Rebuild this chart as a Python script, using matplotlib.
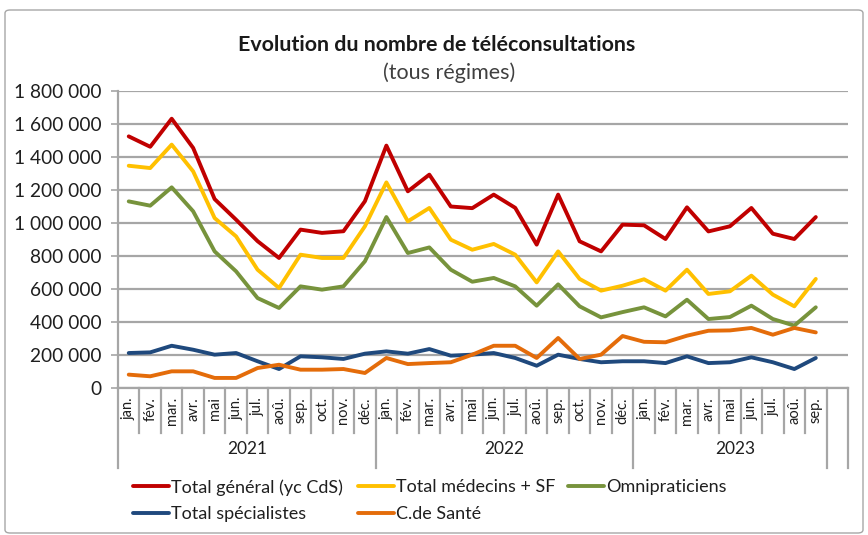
import matplotlib
matplotlib.use("Agg")
import matplotlib.pyplot as plt
import matplotlib.transforms as mtransforms
from matplotlib.patches import FancyBboxPatch
from matplotlib.ticker import FuncFormatter

plt.rcParams['font.family'] = ['Lato', 'DejaVu Sans']

# --- data -------------------------------------------------------------
years = ["2021", "2022", "2023"]
months_per_year = [12, 12, 10]          # last slot of 2023 is left empty
month_labels = ["jan.", "fév.", "mar.", "avr.", "mai", "jun.",
                "jul.", "aoû.", "sep.", "oct.", "nov.", "déc."]
month_labels_2023 = ["jan.", "fév.", "mar.", "avr.", "mai", "jun.",
                     "jul.", "aoû.", "sep.", ""]

total_general = [1525000, 1462000, 1632000, 1455000, 1145000, 1020000,
                 890000, 788000, 960000, 940000, 950000, 1132000,
                 1469000, 1192000, 1293000, 1100000, 1090000, 1172000,
                 1092000, 869000, 1172000, 889000, 828000, 990000,
                 986000, 903000, 1095000, 949000, 980000, 1091000,
                 935000, 903000, 1036000]
total_medecins = [1347000, 1333000, 1475000, 1313000, 1030000, 919000,
                  717000, 606000, 808000, 788000, 788000, 980000,
                  1246000, 1010000, 1091000, 899000, 838000, 873000,
                  808000, 640000, 828000, 661000, 590000, 620000,
                  659000, 590000, 717000, 570000, 586000, 681000,
                  566000, 495000, 661000]
omnipraticiens = [1131000, 1105000, 1216000, 1071000, 828000, 707000,
                  545000, 485000, 616000, 596000, 616000, 768000,
                  1036000, 818000, 852000, 717000, 644000, 667000,
                  616000, 499000, 628000, 495000, 428000, 460000,
                  489000, 434000, 535000, 418000, 430000, 499000,
                  418000, 378000, 489000]
specialistes = [212000, 216000, 256000, 232000, 202000, 212000,
                162000, 115000, 192000, 186000, 176000, 208000,
                222000, 208000, 236000, 196000, 202000, 212000,
                182000, 135000, 202000, 176000, 156000, 162000,
                162000, 151000, 192000, 151000, 156000, 186000,
                156000, 115000, 182000]
centres_sante = [81000, 71000, 101000, 101000, 61000, 61000,
                 121000, 141000, 111000, 111000, 115000, 91000,
                 182000, 145000, 151000, 156000, 202000, 256000,
                 256000, 182000, 303000, 176000, 202000, 315000,
                 280000, 277000, 317000, 347000, 349000, 364000,
                 323000, 364000, 337000]

series_names = ["Total général (yc CdS)", "Total médecins + SF", "Omnipraticiens",
                "Total spécialistes", "C.de Santé"]
series_values = [total_general, total_medecins, omnipraticiens,
                 specialistes, centres_sante]
series_colors = ["#C00000", "#FFC000", "#77933C", "#1F497D", "#E46C0A"]

y_ticks = list(range(0, 1800001, 200000))

# --- figure -------------------------------------------------------------
W, H = 868, 535
fig = plt.figure(figsize=(W / 100, H / 100), dpi=100)

# chart-area frame
frame = FancyBboxPatch((5 / W, 2 / H), 858 / W, 523 / H,
                       boxstyle="round,pad=0,rounding_size=0.006",
                       transform=fig.transFigure, fill=False,
                       edgecolor="#A6A6A6", linewidth=1.0)
fig.patches.append(frame)

ax = fig.add_axes([118 / W, 1 - 388 / H, 730 / W, 297 / H])

n_slots = sum(months_per_year)
x = [i + 0.5 for i in range(len(total_general))]

handles = []
for name, vals, col in zip(series_names, series_values, series_colors):
    h, = ax.plot(x, vals, color=col, lw=2.8, solid_joinstyle="round",
                 solid_capstyle="round", label=name, zorder=3)
    handles.append(h)

ax.set_xlim(0, n_slots)
ax.set_ylim(0, 1800000)
ax.set_yticks(y_ticks)
ax.yaxis.set_major_formatter(FuncFormatter(lambda v, p: f"{int(v):,}".replace(",", " ")))
ax.tick_params(axis="y", length=5, width=1.2, color="#A6A6A6", pad=7,
               labelsize=13.8, labelcolor="#1f1f1f")
ax.set_xticks([])
ax.grid(axis="y", color="#A6A6A6", lw=1.6, zorder=0)
for s in ["top", "right"]:
    ax.spines[s].set_visible(False)
ax.spines["left"].set_color("#A6A6A6")
ax.spines["left"].set_linewidth(1.6)
ax.spines["bottom"].set_color("#A6A6A6")
ax.spines["bottom"].set_linewidth(1.6)

# category axis: month separators, month labels, year groups
trans = mtransforms.blended_transform_factory(ax.transData, ax.transAxes)
short_y = -45 / 297
long_y = -80 / 297
label_y = -9 / 297
year_y = -61 / 297

all_months = []
for yr, n in zip(years, months_per_year):
    all_months += (month_labels if n == 12 else month_labels_2023)

boundaries = [0]
for n in months_per_year:
    boundaries.append(boundaries[-1] + n)
long_lines = set(boundaries) | {n_slots - 1}

for b in range(n_slots + 1):
    yb = long_y if b in long_lines else short_y
    ax.plot([b, b], [0, yb], transform=trans, color="#A6A6A6", lw=1.6,
            clip_on=False, zorder=1)

for i, lab in enumerate(all_months):
    if lab:
        ax.text(i + 0.5, label_y, lab, transform=trans, rotation=90,
                ha="center", va="top", fontsize=10.5, color="#1f1f1f")

year_spans = [(0, 12), (12, 24), (24, 33)]
for yr, (a, b) in zip(years, year_spans):
    ax.text((a + b) / 2 + 0.25 * (yr == "2023"), year_y, yr, transform=trans,
            ha="center", va="center", fontsize=12.5, color="#1f1f1f")

# titles
fig.text(437 / W, 1 - 45 / H, "Evolution du nombre de téléconsultations",
         ha="center", va="center", fontsize=15.4, fontweight="bold", color="#1a1a1a")
fig.text(449 / W, 1 - 73 / H, "(tous régimes)",
         ha="center", va="center", fontsize=15.5, color="#404040")

# legend: two rows, three fixed column positions
legend_columns = [([0, 3], 133), ([1, 4], 358), ([2], 568)]
for idx, x_px in legend_columns:
    leg = fig.legend([handles[i] for i in idx], [series_names[i] for i in idx],
                     loc="upper left", bbox_to_anchor=(x_px / W, 1 - 479 / H),
                     ncol=1, frameon=False, fontsize=13, handlelength=2.0,
                     handletextpad=0.12, labelspacing=0.6, borderpad=0,
                     borderaxespad=0)
    for t in leg.get_texts():
        t.set_color("#1f1f1f")

fig.savefig("out.png", dpi=100)
